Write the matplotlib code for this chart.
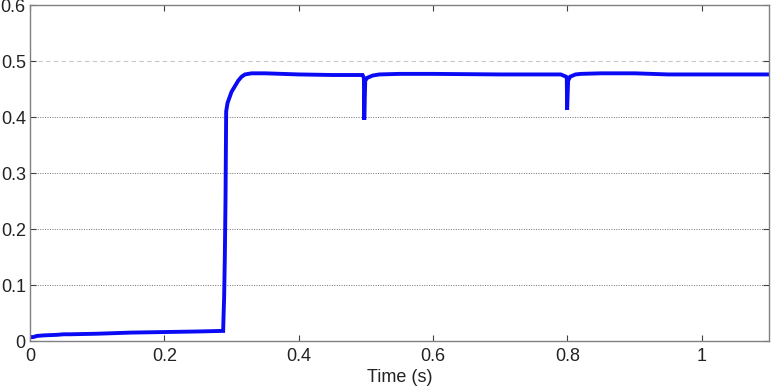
import matplotlib
matplotlib.use("Agg")
import matplotlib.pyplot as plt

plt.rcParams["font.family"] = ["Liberation Sans", "DejaVu Sans"]

# time (s) and signal values
t = [0.0, 0.005, 0.01, 0.02, 0.04, 0.05, 0.06, 0.1, 0.15, 0.2, 0.25, 0.285, 0.2875,
     0.288, 0.289, 0.290, 0.291, 0.292, 0.294, 0.297, 0.300, 0.305, 0.310, 0.315,
     0.320, 0.330, 0.350, 0.400, 0.450, 0.495, 0.497, 0.4975, 0.499, 0.502, 0.510,
     0.520, 0.550, 0.600, 0.700, 0.790, 0.798, 0.799, 0.7995, 0.801, 0.804, 0.812,
     0.820, 0.850, 0.900, 0.950, 1.000, 1.050, 1.100]
v = [0.007, 0.007, 0.009, 0.010, 0.011, 0.012, 0.012, 0.013, 0.015, 0.016, 0.017, 0.018, 0.018,
     0.040, 0.080, 0.150, 0.250, 0.410, 0.425, 0.435, 0.445, 0.455, 0.465, 0.472,
     0.476, 0.478, 0.478, 0.476, 0.475, 0.475, 0.470, 0.395, 0.465, 0.470, 0.474,
     0.476, 0.477, 0.477, 0.476, 0.476, 0.472, 0.470, 0.413, 0.465, 0.472, 0.476,
     0.477, 0.478, 0.478, 0.476, 0.476, 0.476, 0.476]

xticks = [0, 0.2, 0.4, 0.6, 0.8, 1.0]
xticklabels = ["0", "0.2", "0.4", "0.6", "0.8", "1"]
yticks = [0, 0.1, 0.2, 0.3, 0.4, 0.5, 0.6]
yticklabels = ["0", "0.1", "0.2", "0.3", "0.4", "0.5", "0.6"]

fig = plt.figure(figsize=(7.72, 3.9), dpi=100)
ax = fig.add_axes([30/772, 49/390, 739/772, 336/390])

ax.plot(t, v, color="#0a0af5", lw=2.8, solid_joinstyle="miter")

ax.set_xlim(0, 1.1)
ax.set_ylim(0, 0.6)
ax.set_xticks(xticks)
ax.set_xticklabels(xticklabels)
ax.set_yticks(yticks)
ax.set_yticklabels(yticklabels)

for y in [0.1, 0.2, 0.3, 0.4]:
    ax.axhline(y, color="#707070", lw=0.7, ls=(0, (1, 1.5)), zorder=0)
ax.axhline(0.5, color="#c8c8c8", lw=0.8, ls=(0, (4, 3)), zorder=0)

for s in ax.spines.values():
    s.set_color("#808080")
    s.set_linewidth(1.0)

ax.tick_params(direction="in", length=4, width=0.8, color="#404040",
               top=True, right=True, labelsize=13, labelcolor="#222222")
ax.tick_params(axis="y", pad=3)
ax.tick_params(axis="x", pad=5)
ax.set_xlabel("Time (s)", fontsize=13, color="#222222", labelpad=3)

fig.savefig("out.png", dpi=100)
